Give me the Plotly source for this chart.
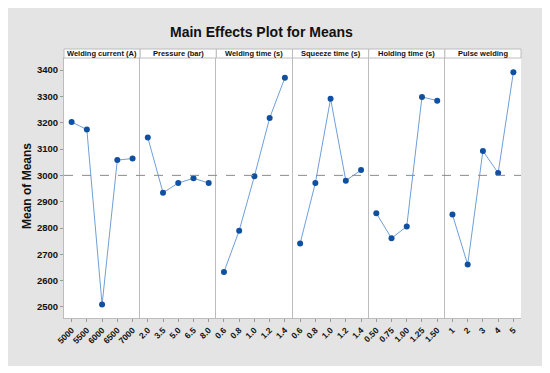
import plotly.graph_objects as go
from plotly.subplots import make_subplots

factors = ["Welding current (A)", "Pressure (bar)", "Welding time (s)",
           "Squeeze time (s)", "Holding time (s)", "Pulse welding"]
levels = [
    ["5000", "5500", "6000", "6500", "7000"],
    ["2.0", "3.5", "5.0", "6.5", "8.0"],
    ["0.6", "0.8", "1.0", "1.2", "1.4"],
    ["0.6", "0.8", "1.0", "1.2", "1.4"],
    ["0.50", "0.75", "1.00", "1.25", "1.50"],
    ["1", "2", "3", "4", "5"],
]
means = [
    [3203, 3174, 2509, 3058, 3064],
    [3144, 2934, 2971, 2989, 2971],
    [2633, 2790, 2997, 3218, 3371],
    [2741, 2971, 3291, 2980, 3020],
    [2856, 2761, 2806, 3298, 3284],
    [2851, 2661, 3093, 3009, 3392],
]
grand_mean = 3000
y_ticks = [2500, 2600, 2700, 2800, 2900, 3000, 3100, 3200, 3300, 3400]

# page body has an 8px margin; figure coords = screen coords - 8
S = 8
W, H = 550 + S, 373 + S
L, T = 64 - S, 49 - S
plot_right, plot_bottom = 521 - S, 318 - S
R, B = W - plot_right, H - plot_bottom
pw = plot_right - L
ph = plot_bottom - T
strip_h = 9
ytop = (ph - strip_h) / ph

def px_x(sx):
    return (sx - S - L) / pw

def px_y(sy):
    return (plot_bottom - (sy - S)) / ph

fig = make_subplots(rows=1, cols=6, shared_yaxes=True, horizontal_spacing=0)
line_col = "#6f9fd6"
mk_col = "#1050a0"
border = "#bcbcbc"
font = "Liberation Sans, Arial, sans-serif"

# gray frame background, then white plot area
fig.add_shape(type="rect", xref="paper", yref="paper", layer="below",
              x0=px_x(4), x1=px_x(546), y0=px_y(366), y1=px_y(6),
              fillcolor="#e4e4e4", line=dict(width=0))
fig.add_shape(type="rect", xref="paper", yref="paper", layer="below",
              x0=0, x1=1, y0=0, y1=ytop,
              fillcolor="white", line=dict(width=0))

for i in range(6):
    xs = list(range(len(levels[i])))
    fig.add_trace(go.Scatter(x=xs, y=means[i], mode="lines+markers",
                             line=dict(color=line_col, width=1),
                             marker=dict(color=mk_col, size=6),
                             showlegend=False), row=1, col=i + 1)
    ax = "xaxis" if i == 0 else f"xaxis{i+1}"
    fig.layout[ax].update(domain=[i / 6, (i + 1) / 6], range=[-0.5, 4.5],
                          tickmode="array", tickvals=xs, ticktext=levels[i],
                          tickangle=-45, ticks="outside", ticklen=3,
                          tickcolor="#9a9a9a", showgrid=False, zeroline=False,
                          showline=True, mirror=True, linecolor=border,
                          linewidth=1, automargin=False,
                          tickfont=dict(family=font, size=8.5, color="#111",
                                        weight="bold"))
    # strip header
    fig.add_shape(type="rect", xref="paper", yref="paper",
                  x0=i / 6, x1=(i + 1) / 6, y0=ytop, y1=1,
                  fillcolor="white", line=dict(color=border, width=1))
    fig.add_annotation(x=(i + 0.5) / 6, y=(ytop + 1) / 2, xref="paper",
                       yref="paper", text=f"<b>{factors[i]}</b>",
                       showarrow=False, xanchor="center", yanchor="middle",
                       font=dict(family=font, size=7.5, color="#111"))

for i in range(6):
    ay = "yaxis" if i == 0 else f"yaxis{i+1}"
    fig.layout[ay].update(domain=[0, ytop], range=[2458, 3446],
                          showgrid=False, zeroline=False, automargin=False,
                          showline=True, linecolor=border)
fig.layout.yaxis.update(tickvals=y_ticks, ticks="outside", ticklen=3,
                        tickcolor="#9a9a9a",
                        tickfont=dict(family=font, size=9.5, color="#111",
                                      weight="bold"))

fig.add_annotation(x=px_x(27), y=px_y(186), xref="paper", yref="paper",
                   text="<b>Mean of Means</b>", textangle=-90,
                   showarrow=False, xanchor="center", yanchor="middle",
                   font=dict(family=font, size=12, color="#111"))

fig.add_shape(type="line", xref="paper", yref="y", x0=0, x1=1,
              y0=grand_mean, y1=grand_mean,
              line=dict(color="#8a8a8a", width=1, dash="dash"))

fig.add_annotation(x=px_x(261), y=px_y(32), xref="paper",
                   yref="paper", text="<b>Main Effects Plot for Means</b>",
                   showarrow=False, xanchor="center", yanchor="middle",
                   font=dict(family=font, size=14, color="#111"))

fig.update_layout(width=W, height=H, margin=dict(l=L, r=R, t=T, b=B),
                  paper_bgcolor="white", plot_bgcolor="rgba(0,0,0,0)")
fig.write_html("out.html")
